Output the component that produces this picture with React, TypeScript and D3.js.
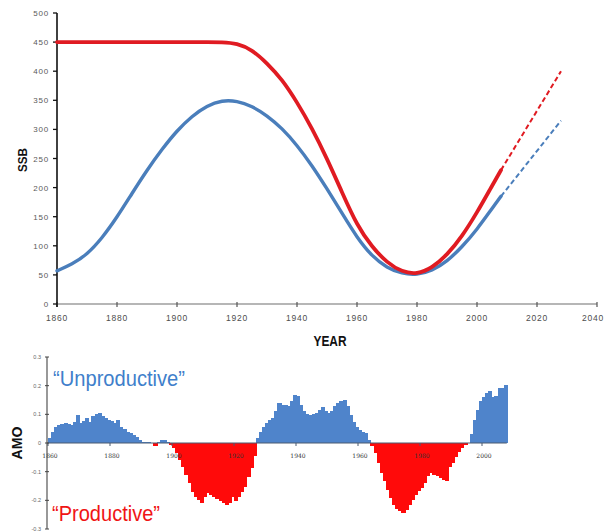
import React from "react";
import * as d3 from "d3";

const W = 605;
const H = 531;

// Spawning stock biomass scenarios, 1860-2008
const ssbYears = [
  1860, 1865, 1870, 1875, 1880, 1885, 1890, 1895, 1900, 1905, 1910, 1915,
  1920, 1925, 1930, 1935, 1940, 1945, 1950, 1955, 1960, 1965, 1970, 1975,
  1980, 1985, 1990, 1995, 2000, 2005, 2008,
];
const ssbLow = [
  57, 68, 85, 113, 149, 190, 230, 266, 298, 323, 341, 350,
  349, 340, 324, 302, 273, 238, 198, 156, 114, 82, 62, 52,
  50, 57, 73, 98, 128, 164, 185,
];
const ssbHigh = [
  450, 450, 450, 450, 450, 450, 450, 450, 450, 450, 450, 450,
  448, 437, 414, 386, 347, 302, 250, 192, 135, 98, 71, 55,
  51, 62, 84, 116, 157, 203, 230,
];

// Projections beyond the last assessment year
const projYears = [2008, 2028];
const projLow = [185, 315];
const projHigh = [230, 400];

const yearTicks = [1860, 1880, 1900, 1920, 1940, 1960, 1980, 2000, 2020, 2040];
const ssbTicks = [0, 50, 100, 150, 200, 250, 300, 350, 400, 450, 500];

// Atlantic Multidecadal Oscillation index, one value per year from 1860
const amoStartYear = 1860;
const amoValues = [
  0.017, 0.04, 0.055, 0.063, 0.068, 0.07, 0.068, 0.063, 0.075, 0.097,
  0.07, 0.078, 0.087, 0.075, 0.095, 0.1, 0.103, 0.095, 0.088, 0.08,
  0.078, 0.07, 0.08, 0.055, 0.05, 0.04, 0.035, 0.028, 0.02, 0.01,
  0.005, 0.003, 0.002, 0, -0.01, 0.004, 0.012, 0.01, 0.005, -0.008,
  -0.017, -0.035, -0.058, -0.083, -0.11, -0.14, -0.17, -0.19, -0.2, -0.21,
  -0.19, -0.175, -0.18, -0.187, -0.197, -0.204, -0.21, -0.215, -0.21, -0.19,
  -0.204, -0.187, -0.17, -0.152, -0.117, -0.088, -0.047, 0.017, 0.04, 0.055,
  0.07, 0.081, 0.087, 0.11, 0.139, 0.133, 0.133, 0.128, 0.145, 0.168,
  0.163, 0.133, 0.11, 0.1, 0.099, 0.1, 0.104, 0.116, 0.125, 0.11,
  0.104, 0.11, 0.128, 0.139, 0.145, 0.151, 0.128, 0.099, 0.075, 0.055,
  0.046, 0.04, 0.035, 0.012, -0.012, -0.035, -0.07, -0.104, -0.134, -0.163,
  -0.192, -0.215, -0.23, -0.238, -0.244, -0.232, -0.215, -0.198, -0.18, -0.169,
  -0.157, -0.14, -0.116, -0.105, -0.11, -0.116, -0.122, -0.128, -0.134, -0.085,
  -0.07, -0.05, -0.03, -0.018, -0.008, 0, 0.033, 0.08, 0.116, 0.145,
  0.162, 0.176, 0.18, 0.16, 0.165, 0.192, 0.192, 0.203,
];
const amoTicks = [0.3, 0.2, 0.1, 0, -0.1, -0.2, -0.3];
const amoTickLabels = ["0.3", "0.2", "0.1", "0", "-0.1", "-0.2", "-0.3"];
const amoYearTicks = [1860, 1880, 1900, 1920, 1940, 1960, 1980, 2000];

const BLUE_LINE = "#4a7ebb";
const RED_LINE = "#e01b22";
const BLUE_BAR = "#4f84cb";
const RED_BAR = "#ff0a0a";
const TICK_FONT = "'Liberation Sans', Arial, sans-serif";
const NARROW_FONT = "'Liberation Sans Narrow', 'Arial Narrow', 'Liberation Sans', sans-serif";

export default function App() {
  // top panel: SSB
  const x = d3.scaleLinear().domain([1860, 2040]).range([57, 597]);
  const y = d3.scaleLinear().domain([0, 500]).range([304, 13]);

  const line = d3
    .line<[number, number]>()
    .x((d) => x(d[0]))
    .y((d) => y(d[1]))
    .curve(d3.curveBasis);
  const straight = d3
    .line<[number, number]>()
    .x((d) => x(d[0]))
    .y((d) => y(d[1]));

  const lowPts = ssbYears.map((yr, i) => [yr, ssbLow[i]] as [number, number]);
  const highPts = ssbYears.map((yr, i) => [yr, ssbHigh[i]] as [number, number]);
  const projLowPts = projYears.map((yr, i) => [yr, projLow[i]] as [number, number]);
  const projHighPts = projYears.map((yr, i) => [yr, projHigh[i]] as [number, number]);

  // bottom panel: AMO
  const lastYear = amoStartYear + amoValues.length;
  const xa = d3.scaleLinear().domain([amoStartYear, lastYear]).range([48, 48 + 3.1 * amoValues.length]);
  const ya = d3.scaleLinear().domain([-0.3, 0.3]).range([529, 357]);

  return (
    <svg
      width={W}
      height={H}
      viewBox={`0 0 ${W} ${H}`}
      style={{ position: "absolute", left: 0, top: 0, background: "#fff" }}
    >
      <rect x={0} y={0} width={W} height={H} fill="#fff" />

      {/* SSB axes */}
      <line x1={x(1860)} x2={x(2040)} y1={y(0)} y2={y(0)} stroke="#6e6e6e" strokeWidth={1.2} />
      {yearTicks.map((t, i) => {
        const last = i === yearTicks.length - 1;
        return (
          <g key={`xt${t}`}>
            <line x1={x(t)} x2={x(t)} y1={y(0) - 2} y2={y(0) + 3} stroke="#555" strokeWidth={1.2} />
            <text
              x={last ? W - 1 : x(t)}
              y={y(0) + 17}
              textAnchor={last ? "end" : "middle"}
              fontSize={8.5}
              letterSpacing={0.8}
              fill="#4d4d4d"
              fontFamily={TICK_FONT}
            >
              {t}
            </text>
          </g>
        );
      })}
      <line x1={x(1860)} x2={x(1860)} y1={y(500)} y2={y(0) + 3} stroke="#111" strokeWidth={1.6} />
      {ssbTicks.map((t) => (
        <g key={`yt${t}`}>
          <line x1={x(1860) - 4} x2={x(1860)} y1={y(t)} y2={y(t)} stroke="#111" strokeWidth={1.3} />
          <text
            x={x(1860) - 8}
            y={y(t) + 3}
            textAnchor="end"
            fontSize={8}
            letterSpacing={0.8}
            fill="#5a5a5a"
            fontFamily={TICK_FONT}
          >
            {t}
          </text>
        </g>
      ))}
      <text
        x={330}
        y={346}
        textAnchor="middle"
        fontSize={14.5}
        fontWeight="bold"
        fill="#111"
        fontFamily={NARROW_FONT}
        textLength={33}
        lengthAdjust="spacingAndGlyphs"
      >
        YEAR
      </text>
      <text
        transform="translate(27,160) rotate(-90)"
        textAnchor="middle"
        fontSize={13}
        fontWeight="bold"
        fill="#111"
        fontFamily={NARROW_FONT}
        textLength={24}
        lengthAdjust="spacingAndGlyphs"
      >
        SSB
      </text>

      {/* SSB series */}
      <path d={straight(projLowPts) || ""} fill="none" stroke={BLUE_LINE} strokeWidth={2} strokeDasharray="5 3" />
      <path d={straight(projHighPts) || ""} fill="none" stroke={RED_LINE} strokeWidth={2} strokeDasharray="5 3" />
      <path d={line(lowPts) || ""} fill="none" stroke={BLUE_LINE} strokeWidth={3.4} strokeLinecap="round" />
      <path d={line(highPts) || ""} fill="none" stroke={RED_LINE} strokeWidth={3.8} strokeLinecap="round" />

      {/* AMO bars */}
      <g shapeRendering="crispEdges">
        {amoValues.map((v, i) => {
          const yr = amoStartYear + i;
          const x0 = xa(yr);
          const x1 = xa(yr + 1);
          const top = Math.min(ya(v), ya(0));
          const h = Math.abs(ya(v) - ya(0));
          return (
            <rect
              key={`b${yr}`}
              x={x0}
              y={top}
              width={x1 - x0 + 1}
              height={h}
              fill={v >= 0 ? BLUE_BAR : RED_BAR}
            />
          );
        })}
      </g>

      {/* AMO axes */}
      <line x1={xa(amoStartYear) - 1} x2={xa(lastYear)} y1={ya(0)} y2={ya(0)} stroke="#4a5a70" strokeWidth={1.1} />
      {amoYearTicks.map((t) => (
        <g key={`at${t}`}>
          <line x1={xa(t)} x2={xa(t)} y1={ya(0)} y2={ya(0) + 3} stroke="#4a5a70" strokeWidth={1} />
          <text
            x={xa(t) + 2}
            y={ya(0) + 15}
            textAnchor="middle"
            fontSize={6}
            fill="#333"
            fontFamily="'DejaVu Serif', 'Liberation Serif', serif"
          >
            {t}
          </text>
        </g>
      ))}
      <line x1={47} x2={47} y1={ya(0.3)} y2={ya(-0.3)} stroke="#444" strokeWidth={1.1} />
      {amoTicks.map((t, i) => (
        <g key={`ay${i}`}>
          <line x1={45} x2={49} y1={ya(t)} y2={ya(t)} stroke="#444" strokeWidth={1} />
          <text
            x={41}
            y={ya(t) + 2}
            textAnchor="end"
            fontSize={5.5}
            fill="#666"
            fontFamily={TICK_FONT}
          >
            {amoTickLabels[i]}
          </text>
        </g>
      ))}
      <text
        transform={`translate(22,${ya(0)}) rotate(-90)`}
        textAnchor="middle"
        fontSize={14}
        fontWeight="bold"
        fill="#111"
        fontFamily={NARROW_FONT}
        textLength={33}
        lengthAdjust="spacingAndGlyphs"
      >
        AMO
      </text>

      <text
        x={53}
        y={386}
        fontSize={22}
        fill="#3f7fcb"
        fontFamily={NARROW_FONT}
        textLength={132}
        lengthAdjust="spacingAndGlyphs"
      >
        “Unproductive”
      </text>
      <text
        x={52}
        y={521}
        fontSize={22}
        fill="#f01414"
        fontFamily={NARROW_FONT}
        textLength={108}
        lengthAdjust="spacingAndGlyphs"
      >
        “Productive”
      </text>
    </svg>
  );
}
